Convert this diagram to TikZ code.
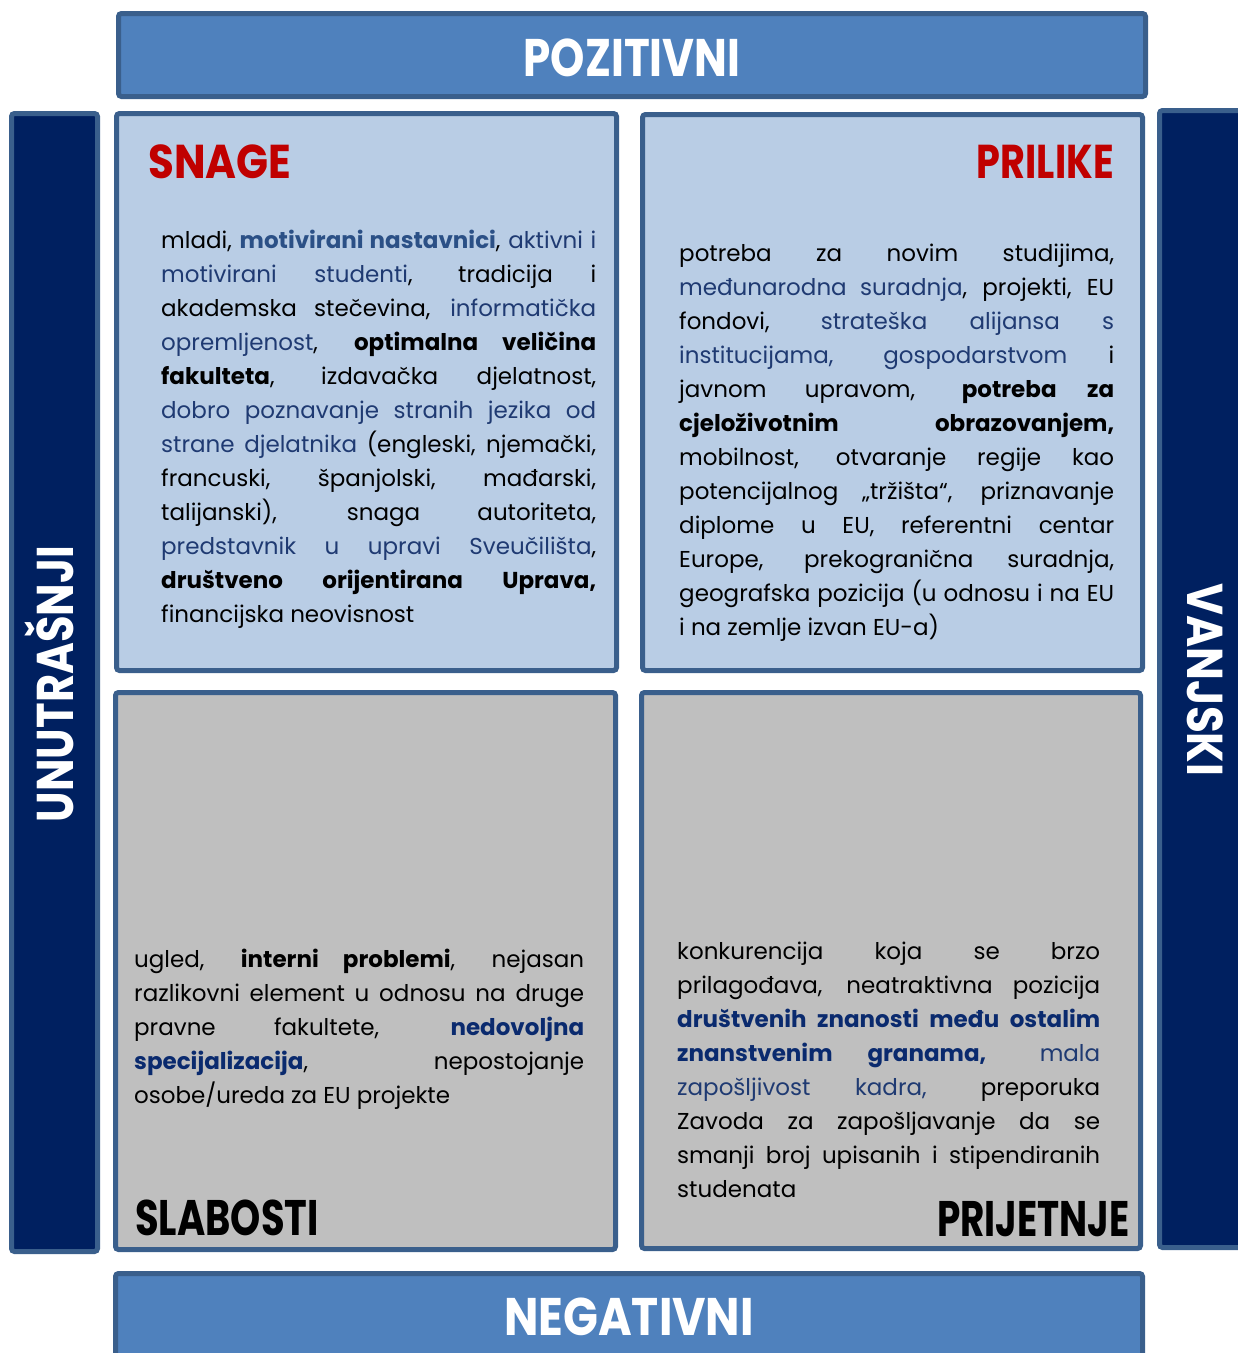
\documentclass[tikz,border=0pt]{standalone}
\usepackage{fontspec}
\setmainfont{Poppins}
\definecolor{barblue}{HTML}{4F81BD}
\definecolor{bordc}{HTML}{3A5F8C}
\definecolor{navy}{HTML}{002060}
\definecolor{lightbl}{HTML}{B9CDE5}
\definecolor{greyf}{HTML}{BFBFBF}
\definecolor{redt}{HTML}{C00000}
\definecolor{bluea}{HTML}{2B5086}
\definecolor{blueb}{HTML}{1F3A72}
\definecolor{bluen}{HTML}{0A2A6E}
\newcommand{\J}[1]{\makebox[\linewidth][s]{#1}\par}
\newcommand{\bl}[1]{{\color{blueb}#1}}
\newcommand{\bb}[1]{{\color{bluea}\bfseries #1}}
\newcommand{\bn}[1]{{\color{bluen}\bfseries #1}}
\newcommand{\bk}[1]{{\bfseries #1}}
\newcommand{\bodyfont}{\fontsize{23}{34}\selectfont\parindent=0pt}
\begin{document}
\begin{tikzpicture}[x=1pt,y=-1pt,
  frame/.style={draw=bordc, line width=5pt, rounded corners=3pt},
  title/.style={font=\fontsize{42}{42}\selectfont\bfseries, inner sep=0pt, anchor=base},
  body/.style={inner sep=0pt, anchor=base west}]
\useasboundingbox (0,0) rectangle (1238,1353);
% bars
\path[frame, fill=barblue] (118.5,13.5) rectangle (1145.5,96.5);
\path[frame, fill=barblue] (115.5,1273.5) rectangle (1142.5,1370);
\path[frame, fill=navy] (11.5,113.5) rectangle (97.5,1251.5);
\path[frame, fill=navy] (1159.5,110.5) rectangle (1255,1247.5);
% quadrants
\path[frame, fill=lightbl] (116.5,113.5) rectangle (616.5,670.5);
\path[frame, fill=lightbl] (642.5,114.5) rectangle (1142.5,670.5);
\path[frame, fill=greyf] (115.5,692.5) rectangle (615.5,1249.5);
\path[frame, fill=greyf] (641.5,692.5) rectangle (1140.5,1248.5);
% bar titles
\node[title, text=white] (poz) at (632,76) {\scalebox{1.04}[1.26]{POZITIVNI}};
\node[title, text=white] (neg) at (629,1335) {\scalebox{1.09}[1.26]{NEGATIVNI}};
\node[title, text=white, rotate=90] (unu) at (73,684) {\scalebox{1.03}[1.23]{UNUTRAŠNJI}};
\node[title, text=white, rotate=-90] (van) at (1187,680) {\scalebox{1.04}[1.2]{VANJSKI}};
% quadrant titles
\node[title, text=redt, anchor=base west] (snage) at (148,178) {\scalebox{1.0}[1.13]{SNAGE}};
\node[title, text=redt, anchor=base east] (prilike) at (1114,178) {\scalebox{0.91}[1.13]{PRILIKE}};
\node[title, text=black, anchor=base west] (slab) at (135,1235) {\scalebox{0.915}[1.19]{SLABOSTI}};
\node[title, text=black, anchor=base east] (prij) at (1130,1236) {\scalebox{0.89}[1.19]{PRIJETNJE}};
% body texts
\node[body] (tsnage) at (161,248) {\begin{minipage}[t]{435pt}\bodyfont
\J{mladi, \bb{motivirani nastavnici}, \bl{aktivni i}}
\J{\bl{motivirani studenti}, tradicija i}
\J{akademska stečevina, \bl{informatička}}
\J{\bl{opremljenost}, \bk{optimalna veličina}}
\J{\bk{fakulteta}, izdavačka djelatnost,}
\J{\bl{dobro poznavanje stranih jezika od}}
\J{\bl{strane djelatnika} (engleski, njemački,}
\J{francuski, španjolski, mađarski,}
\J{talijanski), snaga autoriteta,}
\J{\bl{predstavnik u upravi Sveučilišta},}
\J{\bk{društveno orijentirana Uprava,}}
financijska neovisnost
\end{minipage}};
\node[body] (tprilike) at (679,261) {\begin{minipage}[t]{435pt}\bodyfont
\J{potreba za novim studijima,}
\J{\bl{međunarodna suradnja}, projekti, EU}
\J{fondovi, \bl{strateška alijansa s}}
\J{\bl{institucijama, gospodarstvom} i}
\J{javnom upravom, \bk{potreba za}}
\J{\bk{cjeloživotnim obrazovanjem,}}
\J{mobilnost, otvaranje regije kao}
\J{potencijalnog „tržišta“, priznavanje}
\J{diplome u EU, referentni centar}
\J{Europe, prekogranična suradnja,}
\J{geografska pozicija (u odnosu i na EU}
i na zemlje izvan EU-a)
\end{minipage}};
\node[body] (tslab) at (134,967) {\begin{minipage}[t]{450pt}\bodyfont
\J{ugled, \bk{interni problemi}, nejasan}
\J{razlikovni element u odnosu na druge}
\J{pravne fakultete, \bn{nedovoljna}}
\J{\bn{specijalizacija}, nepostojanje}
osobe/ureda za EU projekte
\end{minipage}};
\node[body] (tprij) at (677,959) {\begin{minipage}[t]{423pt}\bodyfont
\J{konkurencija koja se brzo}
\J{prilagođava, neatraktivna pozicija}
\J{\bn{društvenih znanosti među ostalim}}
\J{\bn{znanstvenim granama,} \bl{mala}}
\J{\bl{zapošljivost kadra,} preporuka}
\J{Zavoda za zapošljavanje da se}
\J{smanji broj upisanih i stipendiranih}
studenata
\end{minipage}};
\end{tikzpicture}
\end{document}
